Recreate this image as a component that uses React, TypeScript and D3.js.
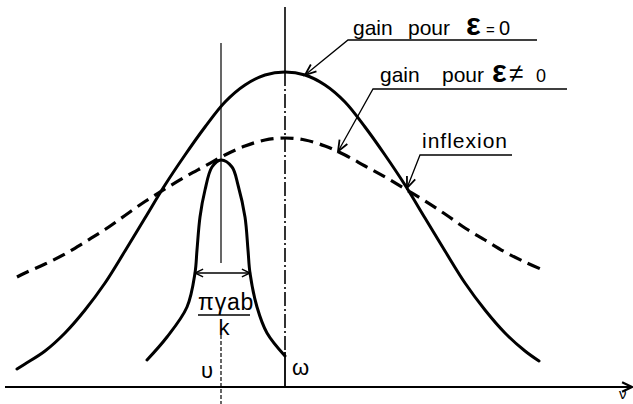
import React from "react";
import * as d3 from "d3";

const W = 633;
const H = 404;

// Gain profiles as [frequency offset from ω, gain] (arbitrary units)
const gainEpsZero: [number, number][] = [
  [-10.72, 0.72], [-10.4, 0.92], [-9.6, 1.44], [-8.8, 2.16], [-8.0, 3.08],
  [-7.2, 4.16], [-6.4, 5.44], [-5.6, 6.76], [-4.8, 8.08], [-4.0, 9.28],
  [-3.2, 10.4], [-2.4, 11.4], [-1.6, 12.08], [-0.8, 12.48], [0, 12.6],
  [0.8, 12.48], [1.6, 12.08], [2.4, 11.4], [3.2, 10.4], [4.0, 9.28],
  [4.8, 8.08], [5.6, 6.76], [6.4, 5.44], [7.2, 4.16], [8.0, 3.08],
  [8.8, 2.16], [9.6, 1.44], [10.16, 1.04],
];

const gainEpsNonZero: [number, number][] = [
  [-10.72, 4.4], [-10.4, 4.56], [-9.6, 4.92], [-8.8, 5.32], [-8.0, 5.8],
  [-7.2, 6.3], [-6.4, 6.86], [-5.6, 7.42], [-4.8, 7.92], [-4.0, 8.4],
  [-3.2, 8.84], [-2.4, 9.28], [-1.6, 9.64], [-0.8, 9.88], [0, 9.96],
  [0.8, 9.88], [1.6, 9.64], [2.4, 9.28], [3.2, 8.84], [4.0, 8.4],
  [4.8, 7.92], [5.6, 7.44], [6.4, 6.92], [7.2, 6.36], [8.0, 5.88],
  [8.8, 5.4], [9.6, 5.0], [10.32, 4.68],
];

// Narrow line profile centred on ν
const lineProfile: [number, number][] = [
  [-5.52, 1.08], [-4.72, 2.0], [-3.92, 3.2], [-3.6, 4.56], [-3.52, 5.48],
  [-3.4, 6.8], [-3.2, 7.88], [-2.92, 8.8], [-2.56, 9.08], [-2.12, 8.8],
  [-1.88, 8.08], [-1.6, 6.8], [-1.48, 5.48], [-1.4, 4.56], [-1.12, 3.2],
  [-0.72, 2.16], [0, 1.24],
];

const OMEGA = 0;
const NU = -2.56;
const widthLevel = 4.56;
const widthSpan: [number, number] = [-3.6, -1.4];

// Annotation targets on the curves
const peakTarget: [number, number] = [0.8, 12.48];
const dashedTarget: [number, number] = [2.12, 9.42];
const inflexionTarget: [number, number] = [4.88, 7.96];

const x = d3.scaleLinear().domain([-12, 14]).range([-15, 635]);
const y = d3.scaleLinear().domain([0, 16]).range([387, -13]);

const curve = d3
  .line<[number, number]>()
  .x((d) => x(d[0]))
  .y((d) => y(d[1]))
  .curve(d3.curveCatmullRom.alpha(0.5));

function barbs(tip: [number, number], from: [number, number], len = 11, ang = 0.42) {
  const a = Math.atan2(from[1] - tip[1], from[0] - tip[0]);
  const p1 = [tip[0] + len * Math.cos(a + ang), tip[1] + len * Math.sin(a + ang)];
  const p2 = [tip[0] + len * Math.cos(a - ang), tip[1] + len * Math.sin(a - ang)];
  return `M${p1[0]},${p1[1]}L${tip[0]},${tip[1]}L${p2[0]},${p2[1]}`;
}

const font = "'Liberation Sans', Arial, sans-serif";

function Leader({ target, corner, end }: { target: [number, number]; corner: [number, number]; end: number }) {
  const tip: [number, number] = [x(target[0]), y(target[1])];
  return (
    <g fill="none" stroke="#000" strokeWidth={1.3}>
      <path d={`M${end},${corner[1]}L${corner[0]},${corner[1]}L${tip[0]},${tip[1]}`} />
      <path d={barbs(tip, corner, 12, 0.38)} strokeWidth={1.8} />
    </g>
  );
}

export default function App() {
  const xo = x(OMEGA);
  const xn = x(NU);
  const wy = y(widthLevel);
  const wl = x(widthSpan[0]);
  const wr = x(widthSpan[1]);
  return (
    <svg
      width={W}
      height={H}
      viewBox={`0 0 ${W} ${H}`}
      style={{ position: "absolute", left: 0, top: 0, background: "#fff" }}
    >
      {/* frequency axis */}
      <line x1={5} x2={631} y1={y(0)} y2={y(0)} stroke="#000" strokeWidth={2} />
      <path d={barbs([632, y(0)], [600, y(0)], 11, 0.45)} fill="none" stroke="#000" strokeWidth={2.2} />
      <text x={619} y={399} fontFamily={font} fontSize={15}>ν</text>

      {/* ω marker */}
      <line x1={xo} x2={xo} y1={y(15.2)} y2={y(12.6)} stroke="#000" strokeWidth={1.6} />
      <line x1={xo} x2={xo} y1={y(12.6)} y2={y(1.4)} stroke="#000" strokeWidth={1.6} strokeDasharray="14 3 2 3" />
      <line x1={xo} x2={xo} y1={y(1.4)} y2={y(0)} stroke="#000" strokeWidth={1.8} />

      {/* ν marker */}
      <line x1={xn} x2={xn} y1={y(13.76)} y2={y(4.96)} stroke="#000" strokeWidth={1.2} />
      <line x1={xn} x2={xn} y1={y(2.08)} y2={y(-0.72)} stroke="#000" strokeWidth={1.2} strokeDasharray="4 2" />

      {/* gain curves */}
      <path d={curve(gainEpsZero) ?? ""} fill="none" stroke="#000" strokeWidth={3} strokeLinecap="round" />
      <path d={curve(gainEpsNonZero) ?? ""} fill="none" stroke="#000" strokeWidth={3.2} strokeDasharray="13 7" />
      <path d={curve(lineProfile) ?? ""} fill="none" stroke="#000" strokeWidth={3} strokeLinecap="round" />

      {/* line width */}
      <g fill="none" stroke="#000" strokeWidth={1.4}>
        <line x1={wl} x2={wr} y1={wy} y2={wy} />
        <path d={barbs([wl, wy], [wr, wy], 9, 0.45)} />
        <path d={barbs([wr, wy], [wl, wy], 9, 0.45)} />
      </g>
      <text x={198} y={310} fontFamily={font} fontSize={23} letterSpacing={0.8}>πγab</text>
      <line x1={198} x2={250} y1={315} y2={315} stroke="#000" strokeWidth={1.5} />
      <text x={224} y={335} fontFamily={font} fontSize={22} textAnchor="middle">k</text>

      <text x={201} y={378} fontFamily={font} fontSize={22}>υ</text>
      <text x={292} y={375} fontFamily={font} fontSize={22}>ω</text>

      {/* annotations */}
      <Leader target={peakTarget} corner={[348, 40]} end={537} />
      <text y={35} fontFamily={font} fontSize={21}>
        <tspan x={353}>gain</tspan>
        <tspan x={408}>pour</tspan>
      </text>
      <text x={466} y={35} fontFamily={font} fontSize={31} fontWeight="bold">ε</text>
      <text x={486} y={35} fontFamily={font} fontSize={15}>=</text>
      <text x={499} y={35} fontFamily={font} fontSize={20}>0</text>

      <Leader target={dashedTarget} corner={[373, 89]} end={567} />
      <text y={82} fontFamily={font} fontSize={21}>
        <tspan x={380}>gain</tspan>
        <tspan x={442}>pour</tspan>
      </text>
      <text x={492} y={82} fontFamily={font} fontSize={31} fontWeight="bold">ε</text>
      <text x={509} y={82} fontFamily={font} fontSize={26}>≠</text>
      <text x={536} y={82} fontFamily={font} fontSize={18}>0</text>

      <Leader target={inflexionTarget} corner={[420, 155]} end={512} />
      <text x={422} y={148} fontFamily={font} fontSize={21} letterSpacing={1}>inflexion</text>
    </svg>
  );
}
